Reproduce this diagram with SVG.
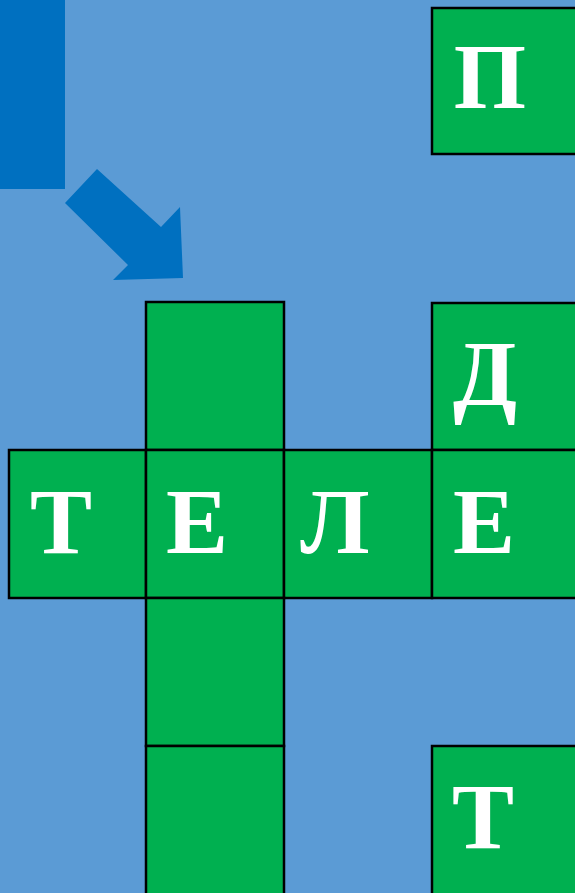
<svg xmlns="http://www.w3.org/2000/svg" width="575" height="893" viewBox="0 0 575 893">
<style>
.cell{fill:#00b050;stroke:#000;stroke-width:2.5}
.t{font-family:"Liberation Serif","Times New Roman",serif;font-weight:bold;font-size:93px;fill:#fff;text-anchor:middle}
</style>
<rect width="575" height="893" fill="#5b9bd5"/>
<rect x="0" y="0" width="65" height="189" fill="#0070c0"/>
<polygon points="97,169 161,227 180,207 183,278 113,280 128,265 65,203" fill="#0070c0"/>
<g id="cell-p"><rect class="cell" x="432" y="8" width="150" height="146"/><text class="t" x="490" y="108">П</text></g>
<g id="cell-d"><rect class="cell" x="432" y="303" width="150" height="147"/><text class="t" x="485" y="405">Д</text></g>
<g id="col1"><rect class="cell" x="146" y="302" width="138" height="148"/></g>
<g id="cell-t1"><rect class="cell" x="9" y="450" width="137" height="148"/><text class="t" x="61" y="553">Т</text></g>
<g id="cell-e1"><rect class="cell" x="146" y="450" width="138" height="148"/><text class="t" x="197" y="553">Е</text></g>
<g id="cell-l"><rect class="cell" x="284" y="450" width="148" height="148"/><text class="t" x="335" y="553">Л</text></g>
<g id="cell-e2"><rect class="cell" x="432" y="450" width="150" height="148"/><text class="t" x="484" y="553">Е</text></g>
<g id="col3"><rect class="cell" x="146" y="598" width="138" height="148"/></g>
<g id="col4"><rect class="cell" x="146" y="746" width="138" height="150"/></g>
<g id="cell-t2"><rect class="cell" x="432" y="746" width="150" height="150"/><text class="t" x="483" y="848">Т</text></g>
<g id="connectors"></g>
</svg>
